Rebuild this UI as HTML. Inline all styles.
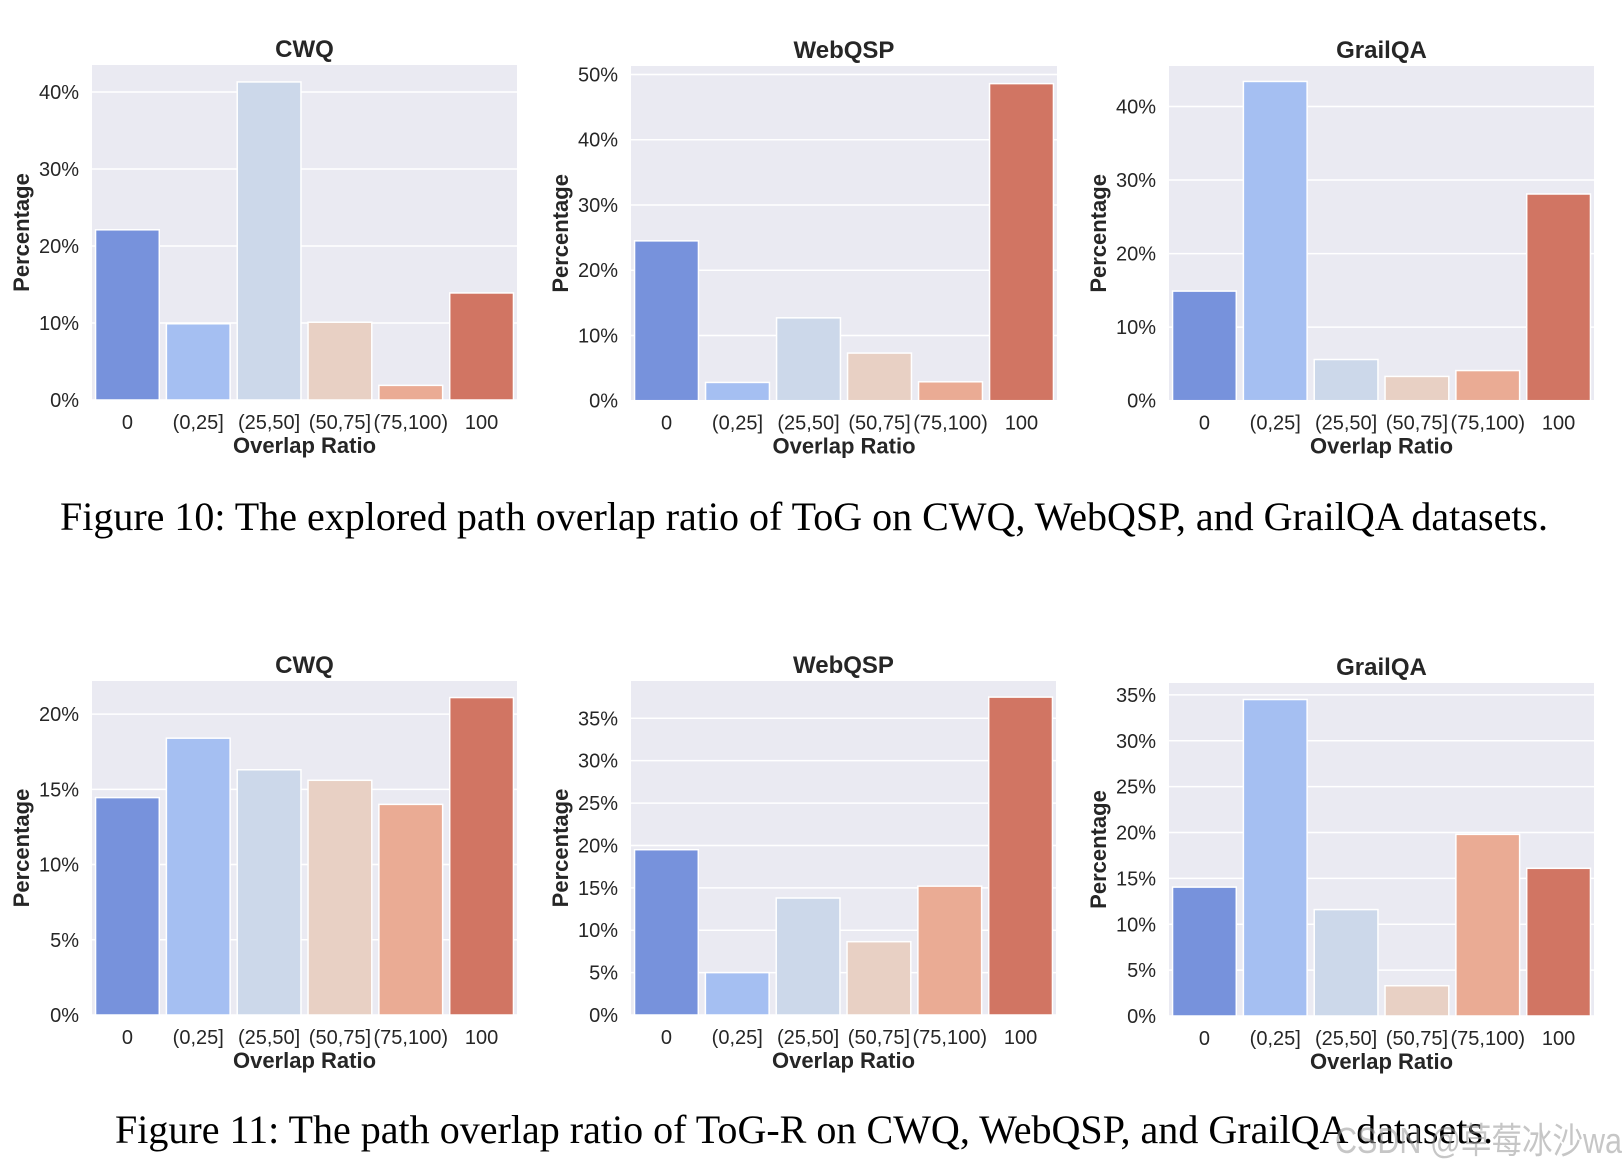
<!DOCTYPE html>
<html><head><meta charset="utf-8"><style>
html,body{margin:0;padding:0;background:#fff;}
svg{display:block;}
text{font-family:"Liberation Sans",Arial,sans-serif;fill:#262626;}
</style></head><body>
<svg id="fig" width="1622" height="1172" viewBox="0 0 1622 1172" xmlns="http://www.w3.org/2000/svg">
<text x="60" y="530" textLength="1488" lengthAdjust="spacingAndGlyphs" style="font-family:'Liberation Serif',serif;font-size:40px;fill:#000">Figure 10: The explored path overlap ratio of ToG on CWQ, WebQSP, and GrailQA datasets.</text>
<text x="115" y="1143" textLength="1378" lengthAdjust="spacingAndGlyphs" style="font-family:'Liberation Serif',serif;font-size:40px;fill:#000">Figure 11: The path overlap ratio of ToG-R on CWQ, WebQSP, and GrailQA datasets.</text>
<text x="1335" y="1153" textLength="287" lengthAdjust="spacingAndGlyphs" style="font-family:'Liberation Sans','Noto Sans CJK SC',sans-serif;font-size:36px;fill:#999;opacity:0.55">CSDN @草莓冰沙wa</text>
</svg>
<script>
const categories = ["0","(0,25]","(25,50]","(50,75]","(75,100)","100"];
const colors = ["#7792dc","#a5bff2","#ccd8ea","#e8d0c4","#eaab94","#d17563"];
const titles = ["CWQ","WebQSP","GrailQA","CWQ","WebQSP","GrailQA"];
const fig10CWQ = [22.1, 9.9, 41.3, 10.1, 1.9, 13.9];
const fig10WebQSP = [24.5, 2.8, 12.7, 7.3, 2.9, 48.6];
const fig10GrailQA = [14.9, 43.4, 5.6, 3.3, 4.1, 28.1];
const fig11CWQ = [14.45, 18.4, 16.3, 15.6, 14.0, 21.1];
const fig11WebQSP = [19.5, 5.0, 13.8, 8.65, 15.2, 37.5];
const fig11GrailQA = [14.05, 34.5, 11.6, 3.3, 19.8, 16.1];
const ticks10CWQ = [0,10,20,30,40];
const ticks10WebQSP = [0,10,20,30,40,50];
const ticks10GrailQA = [0,10,20,30,40];
const ticks11CWQ = [0,5,10,15,20];
const ticks11WebQSP = [0,5,10,15,20,25,30,35];
const ticks11GrailQA = [0,5,10,15,20,25,30,35];
const yMax = [43.5, 51.3, 45.5, 22.2, 39.4, 36.3];

const svg = document.getElementById('fig');
const NS = 'http://www.w3.org/2000/svg';
function mk(tag, attrs, parent){const e=document.createElementNS(NS,tag);for(const k in attrs)e.setAttribute(k,attrs[k]);parent.appendChild(e);return e;}

const panels = [
 {l:92,r:517,t:65,b:400,vals:fig10CWQ,ticks:ticks10CWQ},
 {l:631,r:1057,t:66,b:400.7,vals:fig10WebQSP,ticks:ticks10WebQSP},
 {l:1169,r:1594,t:66,b:400.7,vals:fig10GrailQA,ticks:ticks10GrailQA},
 {l:92,r:517,t:681,b:1015,vals:fig11CWQ,ticks:ticks11CWQ},
 {l:631,r:1056,t:681,b:1015,vals:fig11WebQSP,ticks:ticks11WebQSP},
 {l:1169,r:1594,t:683,b:1016,vals:fig11GrailQA,ticks:ticks11GrailQA}
];

panels.forEach((p,i)=>{
  const g = mk('g',{},svg);
  
  
  const y = v => p.b - (v / yMax[i]) * (p.b - p.t);
  const step = (p.r - p.l) / 6;
  const x = k => p.l + step * (k + 0.5);
  const bg = mk('rect',{x:p.l,y:p.t,width:p.r-p.l,height:p.b-p.t,fill:'#eaeaf2'},g);
  
  
  p.ticks.forEach(tv=>{
    const gl = mk('line',{x1:p.l,x2:p.r,y1:y(tv),y2:y(tv),stroke:'#fff','stroke-width':1.5},g);
    
    
    const tl = mk('text',{x:p.l-13,y:y(tv)+7,'text-anchor':'end','font-size':20},g);
    tl.textContent = tv + '%';
    
    
  });
  p.vals.forEach((v,k)=>{
    const bw = step * 0.9;
    const bar = mk('rect',{x:x(k)-bw/2,y:y(v),width:bw,height:p.b-y(v),fill:colors[k],stroke:'#fff','stroke-width':1.5},g);
    
    
    const xl = mk('text',{x:x(k),y:p.b+29,'text-anchor':'middle','font-size':20},g);
    xl.textContent = categories[k];
    
    
  });
  const cx = (p.l + p.r) / 2;
  const tt = mk('text',{x:cx,y:p.t-8,'text-anchor':'middle','font-size':24,'font-weight':'bold'},g);
  tt.textContent = titles[i];
  
  
  const xt = mk('text',{x:cx,y:p.b+53,'text-anchor':'middle','font-size':22,'font-weight':'bold'},g);
  xt.textContent = 'Overlap Ratio';
  
  
  const yc = (p.t + p.b) / 2;
  const ax = p.l - 63;
  const yt = mk('text',{x:ax,y:yc,'text-anchor':'middle','font-size':22,'font-weight':'bold',transform:'rotate(-90 '+ax+' '+yc+')'},g);
  yt.textContent = 'Percentage';
  
  
});
</script>
</body></html>
